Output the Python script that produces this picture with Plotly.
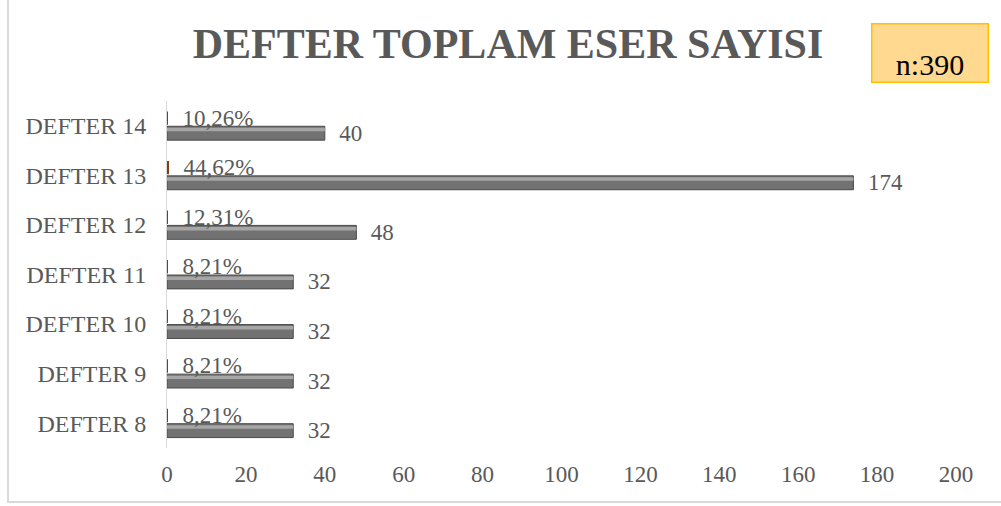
import plotly.graph_objects as go

categories = ["DEFTER 8", "DEFTER 9", "DEFTER 10", "DEFTER 11", "DEFTER 12", "DEFTER 13", "DEFTER 14"]
counts = [32, 32, 32, 32, 48, 174, 40]
shares = [0.0821, 0.0821, 0.0821, 0.0821, 0.1231, 0.4462, 0.1026]
x_ticks = [0, 20, 40, 60, 80, 100, 120, 140, 160, 180, 200]
title_text = "DEFTER TOPLAM ESER SAYISI"
n_text = "n:390"

FONT = "Liberation Serif"
GREY = "#595959"
PAD = "\u00a0\u00a0"

fig = go.Figure()
# main count bars
fig.add_trace(go.Bar(
    y=categories, x=counts, orientation="h", name="Eser",
    offset=-0.29, width=0.28,
    marker=dict(color="#727272", line=dict(color="#4a4a4a", width=1)),
    texttemplate=PAD + "%{x}", textposition="outside", constraintext="none",
    textfont=dict(family=FONT, size=23, color=GREY),
    cliponaxis=False,
))
# bevel highlight on the count bars
fig.add_trace(go.Bar(
    y=categories, x=counts, orientation="h", name="Eser highlight",
    offset=-0.11, width=0.07,
    marker=dict(color="#a6a6a6", line=dict(width=0)),
    hoverinfo="skip",
))
# percentage bars
fig.add_trace(go.Bar(
    y=categories, x=shares, orientation="h", name="Oran",
    offset=0.02, width=0.27,
    marker=dict(color="#843C0C", line=dict(width=0)),
    texttemplate=PAD + "%{x:.2%}", textposition="outside", constraintext="none",
    textfont=dict(family=FONT, size=23, color=GREY),
    cliponaxis=False,
))

L, R, T, B = 167, 45, 101, 58
W, H = 1001, 506
pw, ph = W - L - R, H - T - B

def px_x(p):
    return (p - L) / pw

def px_y(p):
    return (H - B - p) / ph

fig.update_layout(
    width=W, height=H,
    margin=dict(l=L, r=R, t=T, b=B),
    paper_bgcolor="white", plot_bgcolor="white",
    barmode="overlay",
    showlegend=False,
    separators=",.",
    font=dict(family=FONT, size=23, color=GREY),
    title=dict(text="<b>" + title_text + "</b>", x=px_x(508), xanchor="center",
               xref="paper", y=(H - 43) / H, yanchor="middle",
               font=dict(family=FONT, size=42, color=GREY)),
    xaxis=dict(range=[0, 200], tickvals=x_ticks, showgrid=False, zeroline=False,
               showline=False, ticks="", ticklabelstandoff=10,
               tickfont=dict(family=FONT, size=23, color=GREY)),
    yaxis=dict(categoryorder="array", categoryarray=categories, showgrid=False,
               zeroline=False, showline=True, linecolor="#d9d9d9", linewidth=1,
               ticks="", ticklabelstandoff=15,
               tickfont=dict(family=FONT, size=24, color=GREY)),
    shapes=[dict(type="rect", xref="paper", yref="paper",
                 x0=px_x(8), x1=px_x(1010), y0=px_y(502), y1=px_y(-10),
                 line=dict(color="#d9d9d9", width=2), fillcolor="rgba(0,0,0,0)",
                 layer="below")],
    annotations=[dict(text=n_text, xref="paper", yref="paper",
                      x=px_x(929.5), y=px_y(53.5), xanchor="center", yanchor="middle",
                      width=113, height=55, valign="bottom", align="center",
                      bgcolor="#FFD98F", bordercolor="#FFC000", borderwidth=1.5,
                      borderpad=1, showarrow=False,
                      font=dict(family=FONT, size=30, color="#000000"))],
)

fig.write_html("out.html")
